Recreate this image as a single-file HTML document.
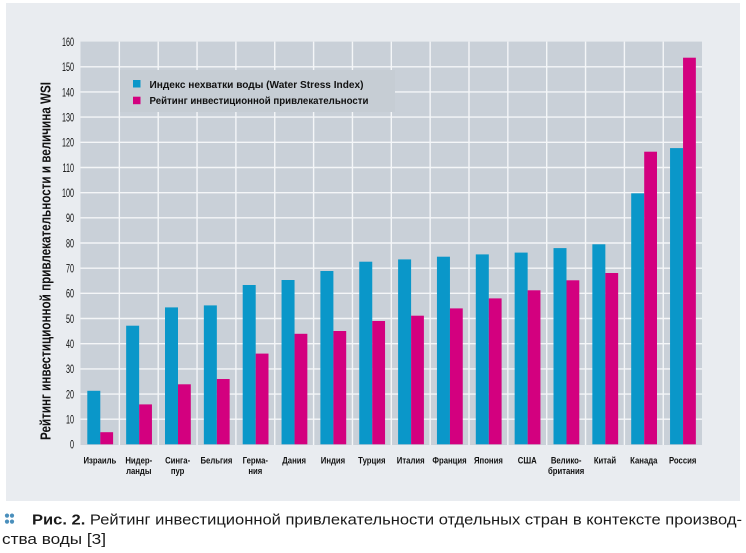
<!DOCTYPE html>
<html><head><meta charset="utf-8"><style>
html,body{margin:0;padding:0;background:#fff;}
svg{display:block;}
text{font-family:"Liberation Sans","DejaVu Sans",sans-serif;}
</style></head><body>
<svg width="746" height="553" viewBox="0 0 746 553" xmlns="http://www.w3.org/2000/svg">
<rect x="0" y="0" width="746" height="553" fill="#ffffff"/>
<rect x="6" y="3" width="734" height="498" fill="#e9ecf0"/>
<rect x="80.5" y="41.6" width="621.5" height="403.4" fill="#c9d0d8"/>
<g stroke="#f4f6f8" stroke-width="1.4">
<line x1="80.5" x2="702" y1="419.2" y2="419.2"/>
<line x1="80.5" x2="702" y1="394.05" y2="394.05"/>
<line x1="80.5" x2="702" y1="368.9" y2="368.9"/>
<line x1="80.5" x2="702" y1="343.7" y2="343.7"/>
<line x1="80.5" x2="702" y1="318.5" y2="318.5"/>
<line x1="80.5" x2="702" y1="293.35" y2="293.35"/>
<line x1="80.5" x2="702" y1="268.2" y2="268.2"/>
<line x1="80.5" x2="702" y1="243.0" y2="243.0"/>
<line x1="80.5" x2="702" y1="217.8" y2="217.8"/>
<line x1="80.5" x2="702" y1="192.65" y2="192.65"/>
<line x1="80.5" x2="702" y1="167.5" y2="167.5"/>
<line x1="80.5" x2="702" y1="142.3" y2="142.3"/>
<line x1="80.5" x2="702" y1="117.1" y2="117.1"/>
<line x1="80.5" x2="702" y1="91.95" y2="91.95"/>
<line x1="80.5" x2="702" y1="66.8" y2="66.8"/>
<line x1="119.35" x2="119.35" y1="41.6" y2="445"/>
<line x1="158.2" x2="158.2" y1="41.6" y2="445"/>
<line x1="197.05" x2="197.05" y1="41.6" y2="445"/>
<line x1="235.9" x2="235.9" y1="41.6" y2="445"/>
<line x1="274.75" x2="274.75" y1="41.6" y2="445"/>
<line x1="313.6" x2="313.6" y1="41.6" y2="445"/>
<line x1="352.45" x2="352.45" y1="41.6" y2="445"/>
<line x1="391.3" x2="391.3" y1="41.6" y2="445"/>
<line x1="430.15" x2="430.15" y1="41.6" y2="445"/>
<line x1="469.0" x2="469.0" y1="41.6" y2="445"/>
<line x1="507.85" x2="507.85" y1="41.6" y2="445"/>
<line x1="546.7" x2="546.7" y1="41.6" y2="445"/>
<line x1="585.55" x2="585.55" y1="41.6" y2="445"/>
<line x1="624.4" x2="624.4" y1="41.6" y2="445"/>
<line x1="663.25" x2="663.25" y1="41.6" y2="445"/>
</g>
<!-- blue bars -->
<g fill="#0a97c9">
<rect x="87.3" y="390.8" width="13" height="53.5"/>
<rect x="126.15" y="325.7" width="13" height="118.6"/>
<rect x="165.0" y="307.4" width="13" height="136.9"/>
<rect x="203.85" y="305.4" width="13" height="138.9"/>
<rect x="242.7" y="285.0" width="13" height="159.3"/>
<rect x="281.55" y="280.0" width="13" height="164.3"/>
<rect x="320.4" y="271.0" width="13" height="173.3"/>
<rect x="359.25" y="261.7" width="13" height="182.6"/>
<rect x="398.1" y="259.4" width="13" height="184.9"/>
<rect x="436.95" y="256.7" width="13" height="187.6"/>
<rect x="475.8" y="254.4" width="13" height="189.9"/>
<rect x="514.65" y="252.6" width="13" height="191.7"/>
<rect x="553.5" y="248.1" width="13" height="196.2"/>
<rect x="592.35" y="244.3" width="13" height="200.0"/>
<rect x="631.2" y="193.3" width="13" height="251.0"/>
<rect x="670.05" y="148.1" width="13" height="296.2"/>
</g>
<!-- magenta bars -->
<g fill="#d3007f">
<rect x="100.3" y="432.2" width="12.8" height="12.1"/>
<rect x="139.15" y="404.4" width="12.8" height="39.9"/>
<rect x="178.0" y="384.3" width="12.8" height="60.0"/>
<rect x="216.85" y="379.0" width="12.8" height="65.3"/>
<rect x="255.7" y="353.6" width="12.8" height="90.7"/>
<rect x="294.55" y="333.8" width="12.8" height="110.5"/>
<rect x="333.4" y="331.0" width="12.8" height="113.3"/>
<rect x="372.25" y="321.0" width="12.8" height="123.3"/>
<rect x="411.1" y="315.7" width="12.8" height="128.6"/>
<rect x="449.95" y="308.4" width="12.8" height="135.9"/>
<rect x="488.8" y="298.4" width="12.8" height="145.9"/>
<rect x="527.65" y="290.3" width="12.8" height="154.0"/>
<rect x="566.5" y="280.3" width="12.8" height="164.0"/>
<rect x="605.35" y="273.0" width="12.8" height="171.3"/>
<rect x="644.2" y="151.7" width="12.8" height="292.6"/>
<rect x="683.05" y="57.7" width="12.8" height="386.6"/>
</g>
<!-- legend -->
<rect x="120" y="70" width="275" height="42" fill="#c6cdd4"/>
<rect x="133" y="80" width="7.5" height="7.5" fill="#0a97c9"/>
<rect x="133" y="96.7" width="7.5" height="7.5" fill="#d3007f"/>
<text x="149.5" y="88" font-size="10.5" font-weight="bold" fill="#111" textLength="214" lengthAdjust="spacingAndGlyphs">Индекс нехватки воды (Water Stress Index)</text>
<text x="149.5" y="104" font-size="10.5" font-weight="bold" fill="#111" textLength="219" lengthAdjust="spacingAndGlyphs">Рейтинг инвестиционной привлекательности</text>
<!-- y tick labels -->
<g font-size="12" fill="#111" text-anchor="end">
<text transform="translate(74,448.7) scale(0.6,1)">0</text>
<text transform="translate(74,423.5) scale(0.6,1)">10</text>
<text transform="translate(74,398.35) scale(0.6,1)">20</text>
<text transform="translate(74,373.2) scale(0.6,1)">30</text>
<text transform="translate(74,348.0) scale(0.6,1)">40</text>
<text transform="translate(74,322.8) scale(0.6,1)">50</text>
<text transform="translate(74,297.65) scale(0.6,1)">60</text>
<text transform="translate(74,272.5) scale(0.6,1)">70</text>
<text transform="translate(74,247.3) scale(0.6,1)">80</text>
<text transform="translate(74,222.1) scale(0.6,1)">90</text>
<text transform="translate(74,196.95) scale(0.6,1)">100</text>
<text transform="translate(74,171.8) scale(0.6,1)">110</text>
<text transform="translate(74,146.6) scale(0.6,1)">120</text>
<text transform="translate(74,121.4) scale(0.6,1)">130</text>
<text transform="translate(74,96.25) scale(0.6,1)">140</text>
<text transform="translate(74,71.1) scale(0.6,1)">150</text>
<text transform="translate(74,45.9) scale(0.6,1)">160</text>
</g>
<!-- y axis title -->
<text transform="translate(50.7,261) rotate(-90)" x="0" y="0" text-anchor="middle" font-size="14.5" font-weight="bold" fill="#111" textLength="358" lengthAdjust="spacingAndGlyphs">Рейтинг инвестиционной привлекательности и величина WSI</text>
<!-- category labels -->
<g font-size="9" font-weight="bold" fill="#111" text-anchor="middle">
<text transform="translate(99.9,463.5) scale(0.86,1)">Израиль</text>
<text transform="translate(138.75,463.5) scale(0.86,1)">Нидер-</text>
<text transform="translate(138.75,474) scale(0.86,1)">ланды</text>
<text transform="translate(177.6,463.5) scale(0.86,1)">Синга-</text>
<text transform="translate(177.6,474) scale(0.86,1)">пур</text>
<text transform="translate(216.45,463.5) scale(0.86,1)">Бельгия</text>
<text transform="translate(255.3,463.5) scale(0.86,1)">Герма-</text>
<text transform="translate(255.3,474) scale(0.86,1)">ния</text>
<text transform="translate(294.15,463.5) scale(0.86,1)">Дания</text>
<text transform="translate(333.0,463.5) scale(0.86,1)">Индия</text>
<text transform="translate(371.85,463.5) scale(0.86,1)">Турция</text>
<text transform="translate(410.7,463.5) scale(0.86,1)">Италия</text>
<text transform="translate(449.55,463.5) scale(0.86,1)">Франция</text>
<text transform="translate(488.4,463.5) scale(0.86,1)">Япония</text>
<text transform="translate(527.25,463.5) scale(0.86,1)">США</text>
<text transform="translate(566.1,463.5) scale(0.86,1)">Велико-</text>
<text transform="translate(566.1,474) scale(0.86,1)">британия</text>
<text transform="translate(604.95,463.5) scale(0.86,1)">Китай</text>
<text transform="translate(643.8,463.5) scale(0.86,1)">Канада</text>
<text transform="translate(682.65,463.5) scale(0.86,1)">Россия</text>
</g>
<!-- caption -->
<g fill="#4a8fbc">
<circle cx="7" cy="515.6" r="2.1"/>
<circle cx="12" cy="515.6" r="2.1"/>
<circle cx="7" cy="521.6" r="2.1"/>
<circle cx="12" cy="521.6" r="2.1"/>
</g>
<text x="32" y="524.5" font-size="15" fill="#1a1a1a" textLength="710" lengthAdjust="spacingAndGlyphs"><tspan font-weight="bold">Рис. 2.</tspan> Рейтинг инвестиционной привлекательности отдельных стран в контексте производ-</text>
<text x="2" y="543.8" font-size="15" fill="#1a1a1a" textLength="104" lengthAdjust="spacingAndGlyphs">ства воды [3]</text>
</svg>
</body></html>
